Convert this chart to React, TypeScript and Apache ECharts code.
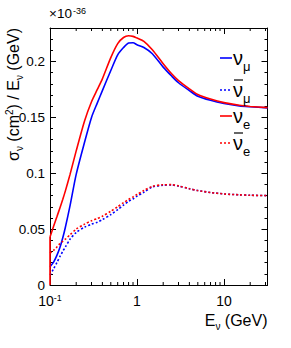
import React, { useEffect, useRef } from "react";
import * as echarts from "echarts";

// Neutrino energy (GeV)
const energies = [0.1, 0.11, 0.12, 0.13, 0.14, 0.15, 0.17, 0.2, 0.25, 0.3, 0.35, 0.4, 0.5, 0.6, 0.7, 0.8, 0.9, 1.0, 1.2, 1.5, 2, 2.5, 3, 4, 5, 7, 10, 15, 20, 31.62];

// sigma / E  (x 1e-36 cm^2 / GeV)
const numuVals = [0.0164, 0.0205, 0.0265, 0.0335, 0.042, 0.0515, 0.071, 0.099, 0.128, 0.150, 0.163, 0.174, 0.192, 0.206, 0.2125, 0.2165, 0.2168, 0.215, 0.2125, 0.207, 0.195, 0.187, 0.181, 0.174, 0.169, 0.1653, 0.1625, 0.1603, 0.1595, 0.1585];
const numubarVals = [0.009, 0.0145, 0.020, 0.0255, 0.030, 0.034, 0.041, 0.047, 0.0518, 0.0545, 0.0562, 0.0585, 0.063, 0.0675, 0.0715, 0.0748, 0.077, 0.0795, 0.083, 0.0878, 0.0893, 0.0895, 0.0885, 0.0862, 0.0845, 0.0828, 0.0815, 0.0807, 0.0803, 0.080];
const nueVals = [0.043, 0.0525, 0.061, 0.069, 0.0765, 0.084, 0.099, 0.120, 0.147, 0.164, 0.175, 0.1845, 0.2035, 0.216, 0.2215, 0.223, 0.2225, 0.221, 0.218, 0.2105, 0.198, 0.189, 0.183, 0.1756, 0.1705, 0.1664, 0.1632, 0.1608, 0.1598, 0.1587];
const nuebarVals = [0.0285, 0.031, 0.034, 0.037, 0.039, 0.041, 0.045, 0.050, 0.0545, 0.0575, 0.0595, 0.0615, 0.066, 0.070, 0.0737, 0.0765, 0.0788, 0.081, 0.0845, 0.0883, 0.0897, 0.0898, 0.0887, 0.0862, 0.0845, 0.0828, 0.0815, 0.0807, 0.0803, 0.080];
// vertical edge of the nu_e graph at the lowest energy
const nueEdge = [[0.1, 0], [0.1, 0.043]];

// axis settings / tick labels
const xMin = 0.1;
const xMax = 31.62;
const yMin = 0;
const yMax = 0.23;
const xMinorTicks = [0.2, 0.3, 0.4, 0.5, 0.6, 0.7, 0.8, 0.9, 2, 3, 4, 5, 6, 7, 8, 9, 20, 30];
const yTickLabels = ["0", "0.05", "0.1", "0.15", "0.2"];

const FONT = "Liberation Sans, Arial, Helvetica, sans-serif";
const BLUE = "#0000ff";
const RED = "#ff0000";

const pairs = (vals: number[]) => energies.map((e, i) => [e, vals[i]]);

export default function App() {
  const ref = useRef<HTMLDivElement>(null);
  useEffect(() => {
    if (!ref.current) return;
    const chart = echarts.init(ref.current, undefined, { renderer: "svg" });
    const grid = { left: 50, top: 28, right: 23.5, bottom: 63 };
    const xBase = {
      type: "log" as const,
      logBase: 10,
      min: xMin,
      max: xMax,
      splitNumber: 3,
      splitLine: { show: false },
      axisLine: { show: true, onZero: false, lineStyle: { color: "#000", width: 1 } },
      axisTick: { show: true, inside: true, length: 6, lineStyle: { color: "#000" } },
    };
    const yBase = {
      type: "value" as const,
      min: yMin,
      max: yMax,
      splitLine: { show: false },
    };
    const lineSeries = (name: string, data: number[][], color: string, dotted: boolean, z: number, smooth: number | boolean = 0.25) => ({
      type: "line" as const,
      name,
      data,
      showSymbol: false,
      symbol: "none",
      smooth,
      z,
      lineStyle: { color, width: 1.6, type: dotted ? [2, 2] : "solid" },
      xAxisIndex: 0,
      yAxisIndex: 0,
    });
    const legendItems = [
      { y: 58, color: BLUE, dotted: false, bar: false, text: "{g|ν}{s|μ}" },
      { y: 90, color: BLUE, dotted: true, bar: true, text: "{g|ν}{s|μ}" },
      { y: 116, color: RED, dotted: false, bar: false, text: "{g|ν}{s|e}" },
      { y: 143, color: RED, dotted: true, bar: true, text: "{g|ν}{s|e}" },
    ];
    const legendGraphics: any[] = [];
    legendItems.forEach((it) => {
      legendGraphics.push({
        type: "line",
        shape: { x1: 220, y1: it.y, x2: 232, y2: it.y },
        style: { stroke: it.color, lineWidth: 1.6, lineDash: it.dotted ? [2, 2] : null },
        z: 50,
      });
      legendGraphics.push({
        type: "text",
        x: 233,
        y: it.y,
        z: 50,
        style: {
          text: it.text,
          textVerticalAlign: "middle",
          textAlign: "left",
          rich: {
            g: { fontSize: 20, fontFamily: FONT, fill: "#000", lineHeight: 22 },
            s: { fontSize: 13, fontFamily: FONT, fill: "#000", verticalAlign: "bottom", lineHeight: 13, padding: [0, 0, -4, 0] },
          },
        },
      });
      if (it.bar) {
        legendGraphics.push({
          type: "line",
          shape: { x1: 234, y1: it.y - 10, x2: 243, y2: it.y - 10 },
          style: { stroke: "#000", lineWidth: 1.2 },
          z: 50,
        });
      }
    });

    chart.setOption({
      animation: false,
      backgroundColor: "#fff",
      grid,
      xAxis: [
        {
          ...xBase,
          position: "bottom",
          axisLabel: {
            show: true,
            margin: 8,
            color: "#000",
            fontFamily: FONT,
            showMaxLabel: false,
            formatter: (v: number) => {
              if (Math.abs(v - 0.1) < 1e-9) return "{n|10}{s|-1}";
              if (Math.abs(v - 1) < 1e-9) return "{n|1}";
              if (Math.abs(v - 10) < 1e-6) return "{n|10}";
              return "";
            },
            rich: {
              n: { fontSize: 14, fontFamily: FONT, color: "#000", lineHeight: 16 },
              s: { fontSize: 9, fontFamily: FONT, color: "#000", verticalAlign: "top", lineHeight: 9 },
            },
          },
        },
        {
          ...xBase,
          position: "top",
          axisLabel: { show: false },
        },
      ],
      yAxis: [
        {
          ...yBase,
          position: "left",
          interval: 0.05,
          axisLine: { show: true, onZero: false, lineStyle: { color: "#000", width: 1 } },
          axisTick: { show: true, inside: true, length: 6, lineStyle: { color: "#000" } },
          axisLabel: {
            show: true,
            margin: 5,
            color: "#000",
            fontSize: 13.5,
            fontFamily: FONT,
            showMaxLabel: false,
            formatter: (v: number) => {
              const idx = Math.round(v / 0.05);
              if (Math.abs(v - idx * 0.05) < 1e-6 && idx < yTickLabels.length) return yTickLabels[idx];
              return "";
            },
          },
        },
        {
          ...yBase,
          position: "left",
          interval: 0.01,
          axisLine: { show: false },
          axisTick: { show: true, inside: true, length: 3, lineStyle: { color: "#000" } },
          axisLabel: { show: false },
        },
        {
          ...yBase,
          position: "right",
          interval: 0.05,
          axisLine: { show: true, onZero: false, lineStyle: { color: "#000", width: 1 } },
          axisTick: { show: true, inside: true, length: 6, lineStyle: { color: "#000" } },
          axisLabel: { show: false },
        },
        {
          ...yBase,
          position: "right",
          interval: 0.01,
          axisLine: { show: false },
          axisTick: { show: true, inside: true, length: 3, lineStyle: { color: "#000" } },
          axisLabel: { show: false },
        },
      ],
      series: [
        lineSeries("νμ", pairs(numuVals), BLUE, false, 2),
        lineSeries("ν̄μ", pairs(numubarVals), BLUE, true, 3),
        lineSeries("νe", pairs(nueVals), RED, false, 4),
        lineSeries("νe edge", nueEdge, RED, false, 4, false),
        lineSeries("ν̄e", pairs(nuebarVals), RED, true, 5),
        {
          type: "custom",
          name: "log minor ticks",
          xAxisIndex: 0,
          yAxisIndex: 0,
          silent: true,
          clip: false,
          z: 10,
          data: xMinorTicks.map((t) => [t, yMin]),
          encode: { x: 0, y: 1 },
          renderItem: (params: any, api: any) => {
            const xv = api.value(0);
            const pb = api.coord([xv, yMin]);
            const pt = api.coord([xv, yMax]);
            return {
              type: "group",
              children: [
                { type: "line", shape: { x1: pb[0], y1: pb[1], x2: pb[0], y2: pb[1] - 3 }, style: { stroke: "#000", lineWidth: 1 } },
                { type: "line", shape: { x1: pt[0], y1: pt[1], x2: pt[0], y2: pt[1] + 3 }, style: { stroke: "#000", lineWidth: 1 } },
              ],
            };
          },
        },
      ],
      graphic: [
        {
          type: "text",
          x: 49,
          y: 21,
          style: {
            text: "{n|×10}{s|-36}",
            textVerticalAlign: "bottom",
            rich: {
              n: { fontSize: 13.5, fontFamily: FONT, fill: "#000", lineHeight: 15 },
              s: { fontSize: 9, fontFamily: FONT, fill: "#000", verticalAlign: "top", lineHeight: 9, padding: [0, 0, 0, 1] },
            },
          },
        },
        {
          type: "text",
          x: 13,
          y: 28,
          rotation: Math.PI / 2,
          style: {
            text: "{t|σ}{b|ν}{t| (cm}{p|2}{t|) / E}{b|ν}{t| (GeV)}",
            textAlign: "right",
            textVerticalAlign: "middle",
            rich: {
              t: { fontSize: 16, fontFamily: FONT, fill: "#000", lineHeight: 18 },
              b: { fontSize: 10, fontFamily: FONT, fill: "#000", verticalAlign: "bottom", lineHeight: 10, padding: [0, 0, -2, 0] },
              p: { fontSize: 10, fontFamily: FONT, fill: "#000", verticalAlign: "top", lineHeight: 10 },
            },
          },
        },
        {
          type: "text",
          x: 267.5,
          y: 320,
          style: {
            text: "{t|E}{b|ν}{t| (GeV)}",
            textAlign: "right",
            textVerticalAlign: "middle",
            rich: {
              t: { fontSize: 16, fontFamily: FONT, fill: "#000", lineHeight: 18 },
              b: { fontSize: 10, fontFamily: FONT, fill: "#000", verticalAlign: "bottom", lineHeight: 10, padding: [0, 0, -2, 0] },
            },
          },
        },
        ...legendGraphics,
      ],
    });
    return () => chart.dispose();
  }, []);
  return <div ref={ref} style={{ position: "absolute", left: 0, top: 0, width: 291, height: 348, background: "#fff" }} />;
}
